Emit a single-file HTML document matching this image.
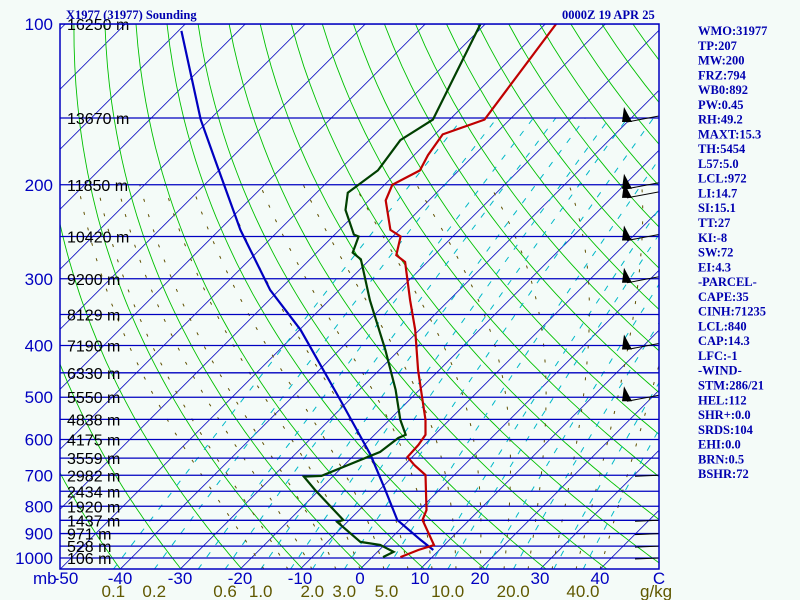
<!DOCTYPE html>
<html><head><meta charset="utf-8"><style>
html,body{margin:0;padding:0;background:#f4fbf8;}
svg{display:block;}
.t{font-family:"Liberation Serif",serif;font-weight:bold;font-size:12.5px;fill:#0000b0;}
.ax{font-family:"Liberation Sans",sans-serif;font-size:17px;fill:#0000c0;}
.ht{font-family:"Liberation Sans",sans-serif;font-size:16px;fill:#000;}
.mr{font-family:"Liberation Sans",sans-serif;font-size:17px;fill:#605800;}
</style></head><body>
<svg id="chart" width="800" height="600" xmlns="http://www.w3.org/2000/svg">
<rect width="800" height="600" fill="#f4fbf8"/>
<defs><clipPath id="pc"><rect x="60" y="24" width="599" height="545"/></clipPath></defs>
<g id="grid" clip-path="url(#pc)"></g>
<g id="series" clip-path="url(#pc)"></g>
<g id="labels"></g>
<rect x="60" y="24" width="599" height="545" fill="none" stroke="#0000c0" stroke-width="1.5"/>
<text class="t" x="66" y="19">X1977 (31977) Sounding</text>
<text class="t" x="562" y="19">0000Z 19 APR 25</text>
<g id="stats"></g>
</svg>
<script>
const isobarP=[100,150,200,250,300,350,400,450,500,550,600,650,700,750,800,850,900,950,1000];
const heightLabels=["16250","13670","11850","10420","9200","8129","7190","6330","5550","4838","4175","3559","2982","2434","1920","1437","971","528","106"];
const pressureTicks=[100,200,300,400,500,600,700,800,900,1000];
const tempTicks=[-50,-40,-30,-20,-10,0,10,20,30,40];
const mixTicks=[0.1,0.2,0.6,1.0,2.0,3.0,5.0,10.0,20.0,40.0];
const tempP=[100,151,161,176,188,200,214,243,250,271,279,329,374,445,506,551,588,614,647,670,699,813,849,946,966,996];
const tempT=[-58.2,-54.2,-58.7,-57.7,-56.5,-58.7,-57.2,-51.5,-48.7,-46.3,-43.7,-36.5,-30.7,-23.5,-17.8,-14,-11.5,-11,-10.8,-8.3,-4.8,1.2,2.2,8.3,6.5,4.7];
const dewP=[100,151,165,188,207,223,248,250,268,276,329,408,484,551,588,596,633,702,704,746,849,856,933,945,974,996];
const dewT=[-70.8,-62.8,-64.8,-63.5,-64.8,-62.3,-56.8,-55.7,-54,-51.5,-43.2,-32.3,-24,-18.2,-14.8,-15.5,-16.2,-22,-24.8,-20.7,-11,-11.7,-4.5,-0.7,2.7,1.8];
const parcelP=[103,151,180,243,315,374,506,641,746,849,925,966];
const parcelT=[-119.5,-101.5,-92.3,-76.5,-61.5,-49.8,-31.5,-17.3,-9,-2,5.2,9];
const stats=["WMO:31977","TP:207","MW:200","FRZ:794","WB0:892","PW:0.45","RH:49.2","MAXT:15.3","TH:5454","L57:5.0","LCL:972","LI:14.7","SI:15.1","TT:27","KI:-8","SW:72","EI:4.3","-PARCEL-","CAPE:35","CINH:71235","LCL:840","CAP:14.3","LFC:-1","-WIND-","STM:286/21","HEL:112","SHR+:0.0","SRDS:104","EHI:0.0","BRN:0.5","BSHR:72"];
const barbP=[150,200,208,250,300,400,500];

const NS="http://www.w3.org/2000/svg";
function yOf(p){return 558-534*Math.log10(1000/p);}
function xOf(T,p){return 360+6*T+(569.3-yOf(p));}
function mk(tag,attrs,parent){const e=document.createElementNS(NS,tag);for(const k in attrs)e.setAttribute(k,attrs[k]);parent.appendChild(e);return e;}
const grid=document.getElementById('grid'),series=document.getElementById('series'),labels=document.getElementById('labels');
function poly(pts,attrs,parent,name){const e=mk('polyline',Object.assign({points:pts.map(q=>q[0].toFixed(1)+','+q[1].toFixed(1)).join(' '),fill:'none'},attrs),parent);

return e;}
for(let T=-150;T<=50;T+=10){poly([[xOf(T,1050),yOf(1050)],[xOf(T,100),yOf(100)]],{stroke:'#0000c0','stroke-width':0.8},grid,'isotherm');}
for(let th=220;th<=500;th+=10){const pts=[];for(let p=1050;p>=100;p-=10){pts.push([xOf(th*Math.pow(p/1000,0.286)-273.15,p),yOf(p)]);}poly(pts,{stroke:'#00c000','stroke-width':0.9},grid,'dry-adiabat');}
function tdFromW(w,p){const e=w*p/(622+w);const l=Math.log(e/6.112);return 243.5*l/(17.67-l);}
const mixAll=[0.1,0.2,0.4,0.6,1,1.5,2,3,5,8,10,15,20,30,40];
mixAll.forEach(w=>{const pts=[];for(let p=1050;p>=150;p-=10)pts.push([xOf(tdFromW(w,p),p),yOf(p)]);poly(pts,{stroke:'#00b8c8','stroke-width':1,'stroke-dasharray':'6 9'},grid,'mixing-ratio-line');});
function es(T){return 6.112*Math.exp(17.67*T/(T+243.5));}
for(let T0=-16;T0<=40;T0+=4){let T=T0+273.15;const pts=[];for(let p=1050;p>=200;p-=5){pts.push([xOf(T-273.15,p),yOf(p)]);const rs=0.622*es(T-273.15)/(p-es(T-273.15));const dTdp=(287*T+2.5e6*rs)/(1004+2.5e6*2.5e6*rs*0.622/(287*T*T))/p;T-=dTdp*5;}
poly(pts,{stroke:'#605000','stroke-width':1,'stroke-dasharray':'3 13'},grid,'moist-adiabat');}
isobarP.forEach((p,i)=>{const l=mk('line',{x1:60,x2:659,y1:yOf(p),y2:yOf(p),stroke:'#0000c0','stroke-width':1.3},grid);


const t=mk('text',{class:'ht',x:67,y:yOf(p)+6},labels);t.textContent=heightLabels[i]+' m';

});
poly(parcelP.map((p,i)=>[xOf(parcelT[i],p),yOf(p)]),{stroke:'#0000c0','stroke-width':2.2},series,'parcel-line');
poly(dewP.map((p,i)=>[xOf(dewT[i],p),yOf(p)]),{stroke:'#004000','stroke-width':2.2},series,'dewpoint-line');
poly(tempP.map((p,i)=>[xOf(tempT[i],p),yOf(p)]),{stroke:'#c00000','stroke-width':2.2},series,'temperature-line');
barbP.forEach(p=>{const y=yOf(p);const g=mk('g',{},series);


mk('line',{x1:659,y1:y-2,x2:627,y2:y+4,stroke:'#000','stroke-width':1},g);
mk('polygon',{points:`${622},${y+4} ${624},${y-11} ${632},${y+4}`,fill:'#000'},g);});
[700,850,900,950,1000].forEach(p=>{const y=yOf(p);const l=mk('line',{x1:659,y1:y,x2:635,y2:y+1,stroke:'#000','stroke-width':1},series);

});
pressureTicks.forEach(p=>{const t=mk('text',{class:'ax',x:53,y:yOf(p)+6,'text-anchor':'end'},labels);t.textContent=p;

});
const mb=mk('text',{class:'ax',x:33,y:584},labels);mb.textContent='mb';


tempTicks.forEach(T=>{const t=mk('text',{class:'ax',x:360+6*T+(T===-50?6:0),y:584,'text-anchor':'middle'},labels);t.textContent=T;

});
const c=mk('text',{class:'ax',x:659,y:584,'text-anchor':'middle'},labels);c.textContent='C';


mixTicks.forEach(w=>{const t=mk('text',{class:'mr',x:xOf(tdFromW(w,1050),1050),y:597,'text-anchor':'middle'},labels);t.textContent=w.toFixed(1);

});
const gk=mk('text',{class:'mr',x:640,y:597},labels);gk.textContent='g/kg';


const st=document.getElementById('stats');
stats.forEach((s,i)=>{const t=mk('text',{class:'t',x:698,y:35+i*14.77},st);t.textContent=s;

});
</script>
</body></html>
